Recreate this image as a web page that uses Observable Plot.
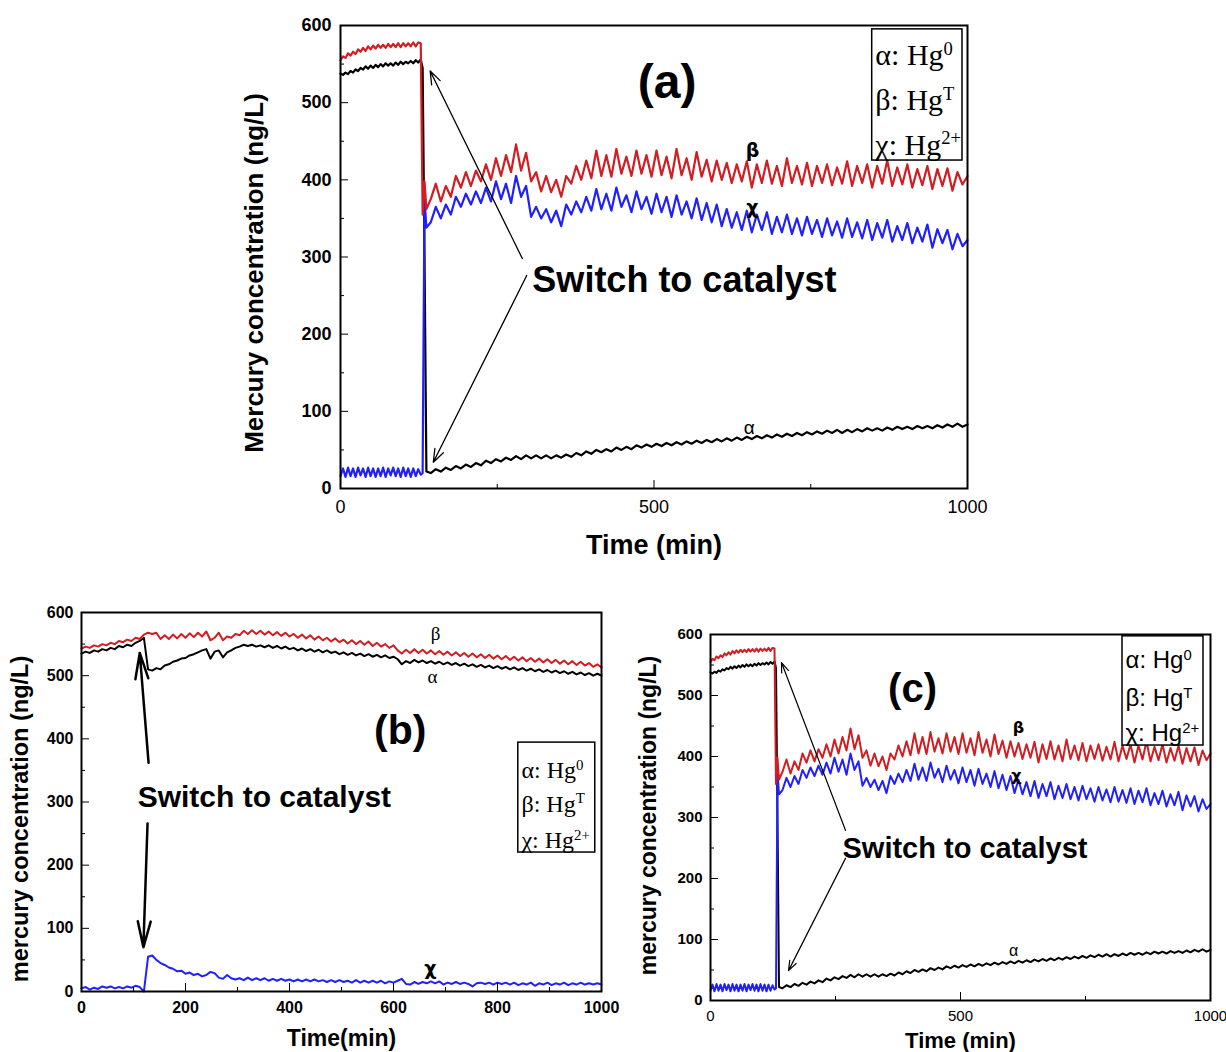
<!DOCTYPE html>
<html><head><meta charset="utf-8">
<script src="https://cdn.jsdelivr.net/npm/d3@7"></script>
<script src="https://cdn.jsdelivr.net/npm/@observablehq/plot@0.6"></script>
<style>
body{margin:0;background:#fff;}
#root{position:relative;width:1226px;height:1052px;overflow:hidden;background:#fff;}
.p{position:absolute;}
</style></head><body><div id="root"></div>
<script>
// ---------- DATA: panels (a) and (c) ----------
const timesA = [...d3.range(0,129,4),131,134,137,...d3.range(144,1001,8)];
const alphaA = [538,536,539,537,541,539,543,541,545,543,547,544,548,545,549,546,550,547,551,548,551,548,552,549,553,550,553,551,554,551,555,552,556,
  545,300,22,
  20,25,22,27,24,29,26,31,28,33, 30,36,33,38,35,40,37,42,38,43,
  39,43,39,43,39,43,40,44,41,46, 43,48,45,50,47,51,48,53,50,54,
  51,56,53,57,54,58,55,59,56,60, 57,61,58,62,59,63,60,64,61,65,
  62,66,63,67,64,68,65,69,66,70, 67,71,68,72,69,73,70,74,71,75,
  72,76,72,76,73,77,74,78,75,78, 75,79,76,80,77,80,77,81,78,81,
  78,82,79,83,80,84,80,83];
const betaA = [555,560,558,564,561,566,563,569,566,571,567,573,569,574,570,575,571,575,571,576,572,576,572,577,572,577,573,577,573,578,573,578,577,
  355,398,362,
  375,395,372,392,378,405,390,410,392,412, 398,420,400,428,405,432,410,446,412,435,
  398,410,385,405,384,400,378,405,395,418, 400,425,402,438,405,432,404,440,408,430,
  405,438,408,432,404,438,406,430,402,440, 406,428,400,436,404,426,398,425,400,422,
  396,420,398,424,390,420,396,425,395,418, 392,428,396,418,394,422,392,418,396,420,
  393,416,395,424,392,418,396,420,390,418, 395,425,392,416,394,420,390,414,393,418,
  388,414,392,415,386,410,394,405];
const chiA = [16,26,15,27,16,26,15,27,17,26,15,27,16,26,15,26,16,27,15,26,17,27,16,26,15,27,16,26,15,26,16,25,18,
  20,375,338,
  345,365,350,368,355,378,365,382,368,385, 370,390,372,398,375,395,370,405,378,392,
  352,365,350,362,345,360,340,368,355,372, 358,378,360,388,362,382,360,390,365,380,
  358,385,362,378,356,382,358,378,352,380, 355,372,350,376,348,370,345,368,340,362,
  338,358,335,360,332,355,335,358,330,352, 332,355,330,350,328,352,330,348,326,350,
  328,346,325,350,326,345,324,348,322,344, 325,348,320,340,322,344,318,338,320,342,
  312,336,318,335,310,330,314,322];

// ---------- DATA: panel (b) ----------
const timesB = d3.range(0,1001,8);
const alphaB = [535,538,536,540,538,542,540,544,542,547, 545,549,547,552,555,560,510,508,512,510,
  516,518,522,524,527,528,532,534,537,540, 542,527,538,540,529,537,540,544,546,549,
  547,549,546,548,545,548,544,547,543,546, 542,544,540,543,539,542,538,541,537,540,
  536,538,534,537,533,536,532,535,531,534, 530,533,529,532,528,530,526,518,523,520,
  525,521,524,520,523,519,522,518,521,517, 520,516,519,515,518,514,517,513,516,512,
  515,511,514,510,513,509,512,508,511,507, 510,506,509,505,508,504,507,503,506,502,
  505,501,504,500,503,500];
const betaB = [543,546,544,548,546,550,548,552,550,555, 553,557,555,560,558,565,568,566,568,558,
  564,558,565,559,566,560,567,561,568,562, 570,556,560,568,556,562,560,566,564,571,
  566,572,566,571,565,570,564,569,563,568, 562,566,560,565,559,564,557,562,556,560,
  554,559,553,557,551,556,550,555,549,554, 547,552,546,550,544,548,540,535,541,536,
  542,536,541,535,540,534,539,533,538,532, 537,531,536,530,535,529,534,528,533,527,
  532,526,531,525,530,524,529,523,528,522, 527,521,526,520,525,519,524,518,523,517,
  522,516,520,514,518,513];
const chiB = [5,7,3,6,4,8,6,8,5,7, 5,8,6,9,7,0,55,57,50,45,
  42,38,36,32,33,28,30,26,28,24, 26,31,29,22,20,26,21,19,21,18,
  22,18,21,18,21,17,20,17,20,17, 19,16,19,16,19,16,19,16,18,15,
  18,15,18,15,17,14,18,14,17,14, 17,14,17,13,16,14,17,20,12,11,
  15,12,15,13,16,13,16,11,14,12, 15,12,14,12,8,13,14,12,14,11,
  14,12,14,11,14,10,13,11,14,9, 13,11,14,10,13,11,14,10,13,11,
  14,11,13,11,13,11];

// ---------- ticks & labels ----------
const yTicks = [0,100,200,300,400,500,600];
const yMinor = [50,150,250,350,450,550];
const xTicksAC = [0,500,1000];
const xMinorAC = [250,750];
const xTicksB = [0,200,400,600,800,1000];
const xMinorB = [100,300,500,700,900];
const legendNames = ["α: Hg","β: Hg","χ: Hg"];
const legendSups = ["0","T","2+"];
const switchText = "Switch to catalyst";

// ---------- annotations ----------
const arrowsA = [{x1:290,y1:298,x2:143,y2:541},{x1:297,y1:276,x2:148,y2:34}];
const arrowsB = [{x1:129,y1:362,x2:112,y2:536},{x1:127,y1:266,x2:119,y2:70}];
const arrowsC = [{x1:270,y1:279,x2:142,y2:554},{x1:270,y1:233,x2:156,y2:49}];

const RED = "#d21d22", BLUE = "#2020ff", BLACK = "#000";

function rows(times, vals){ return times.map((t,i)=>({t, v: vals[i]})); }

function makePanel(c){
  const marks = [
    Plot.line(rows(c.times, c.alpha), {x:"t", y:"v", stroke:BLACK, strokeWidth:c.lw}),
    Plot.line(rows(c.times, c.chi), {x:"t", y:"v", stroke:BLUE, strokeWidth:c.lw}),
    Plot.line(rows(c.times, c.beta), {x:"t", y:"v", stroke:RED, strokeWidth:c.lw}),
    Plot.frame({stroke:"#000", strokeWidth:2}),
    Plot.axisY(yTicks, {tickSize:-8, tickPadding:c.yPad, fontSize:c.yFont, fontWeight:"bold", label:null, tickFormat:d=>String(d)}),
    Plot.axisY(yMinor, {tickSize:-4, tickFormat:()=>"", label:null}),
    Plot.axisX(c.xTicks, {tickSize:-8, tickPadding:c.xPad, fontSize:c.xFont, fontWeight:c.xBold?"bold":"normal", label:null, tickFormat:d=>String(d)}),
    Plot.axisX(c.xMinor, {tickSize:-4, tickFormat:()=>"", label:null}),
    Plot.arrow(c.arrows, {x1:"x1", y1:"y1", x2:"x2", y2:"y2", stroke:"#000", strokeWidth:c.aw, headLength:c.ah, headAngle:c.ha}),
    Plot.text([switchText], {x:c.sw.x, y:c.sw.y, text:d=>d, textAnchor:"start", fontSize:c.sw.size, fontWeight:"bold", fill:"#000"}),
    Plot.text([c.panelLabel.text], {x:c.panelLabel.x, y:c.panelLabel.y, text:d=>d, fontSize:c.panelLabel.size, fontWeight:"bold", fill:"#000"}),
    ...c.seriesLabels.map(s => Plot.text([s], {x:"x", y:"y", text:"t", fontSize:c.slSize, fontWeight:s.w, fontFamily:s.f, fill:"#000"})),
    Plot.rect([c.box], {x1:"x1", x2:"x2", y1:"y1", y2:"y2", fill:"white", stroke:"#000", strokeWidth:1.5}),
    Plot.text(legendNames, {x:c.box.tx, y:(d,i)=>c.box.ty[i], text:d=>d, textAnchor:"start", fontSize:c.box.size, fontFamily:c.box.font, fill:"#000"}),
    Plot.text([c.xTitle], {frameAnchor:"bottom", textAnchor:"middle", lineAnchor:"middle", dy:c.xTitleDy, text:d=>d, fontSize:c.xTitleSize, fontWeight:"bold", fill:"#000"}),
    Plot.text([c.yTitle], {frameAnchor:"left", textAnchor:"middle", lineAnchor:"middle", rotate:-90, dx:c.yTitleDx, dy:c.yTitleDy, text:d=>d, fontSize:c.yTitleSize, fontWeight:"bold", fill:"#000"})
  ];
  const svg = Plot.plot({
    width:c.width, height:c.height,
    marginLeft:c.mL, marginRight:c.mR, marginTop:c.mT, marginBottom:c.mB,
    x:{domain:[0,1000]}, y:{domain:[0,600]},
    style:{fontFamily:"'Liberation Sans', Arial, sans-serif", background:"transparent", overflow:"visible", color:"#000"},
    marks
  });
  d3.select(svg).selectAll("text").each(function(){
    const i = legendNames.indexOf(this.textContent);
    if (i >= 0) d3.select(this).append("tspan").attr("dy","-0.55em").attr("font-size","0.62em").text(legendSups[i]);
  });
  const div = document.createElement("div");
  div.className = "p";
  div.style.left = c.left+"px"; div.style.top = c.top+"px"; div.style.width = c.width+"px";
  div.appendChild(svg);
  document.getElementById("root").appendChild(div);
}

const SERIF = "'Liberation Serif', 'Times New Roman', serif";
const SANS = "'Liberation Sans', Arial, sans-serif";
const GREEK = "'DejaVu Sans', sans-serif";

makePanel({
  left:230, top:0, width:760, height:575, mL:110, mR:23, mT:25, mB:87,
  times:timesA, alpha:alphaA, beta:betaA, chi:chiA, lw:2.2,
  xTicks:xTicksAC, xMinor:xMinorAC, xPad:20, xFont:18, xBold:false, yPad:17, yFont:18,
  arrows:arrowsA, aw:1.3, ah:16, ha:40,
  sw:{x:306, y:269, size:36},
  panelLabel:{text:"(a)", x:521, y:526, size:48},
  seriesLabels:[{x:657,y:438,t:"β",w:"bold",f:GREEK},{x:657,y:363,t:"χ",w:"bold",f:GREEK},{x:652,y:79,t:"α",w:"normal",f:SANS}],
  slSize:19,
  box:{x1:848, x2:992, y1:425, y2:595, tx:853, ty:[561,503,445], size:30, font:SERIF},
  xTitle:"Time (min)", xTitleDy:57, xTitleSize:27,
  yTitle:"Mercury concentration (ng/L)", yTitleDx:-86, yTitleDy:16, yTitleSize:26
});

makePanel({
  left:0, top:590, width:620, height:462, mL:81, mR:19, mT:22, mB:61,
  times:timesB, alpha:alphaB, beta:betaB, chi:chiB, lw:2,
  xTicks:xTicksB, xMinor:xMinorB, xPad:18, xFont:16, xBold:true, yPad:16, yFont:16,
  arrows:arrowsB, aw:2.5, ah:16, ha:28,
  sw:{x:108, y:307, size:30},
  panelLabel:{text:"(b)", x:613, y:413, size:41},
  seriesLabels:[{x:681,y:566,t:"β",w:"normal",f:SERIF},{x:675,y:498,t:"α",w:"normal",f:SERIF},{x:671,y:36,t:"χ",w:"bold",f:GREEK}],
  slSize:19,
  box:{x1:840, x2:988, y1:220, y2:394, tx:846, ty:[350,297,239], size:24, font:SERIF},
  xTitle:"Time(min)", xTitleDy:47, xTitleSize:23,
  yTitle:"mercury concentration (ng/L)", yTitleDx:-61, yTitleDy:17, yTitleSize:23.5
});

makePanel({
  left:625, top:610, width:601, height:442, mL:85, mR:16, mT:24, mB:52,
  times:timesA, alpha:alphaA, beta:betaA, chi:chiA, lw:2,
  xTicks:xTicksAC, xMinor:xMinorAC, xPad:18, xFont:15, xBold:false, yPad:16, yFont:15,
  arrows:arrowsC, aw:1.2, ah:13, ha:40,
  sw:{x:264, y:249, size:29},
  panelLabel:{text:"(c)", x:404, y:511, size:40},
  seriesLabels:[{x:616,y:447,t:"β",w:"bold",f:GREEK},{x:612,y:369,t:"χ",w:"bold",f:GREEK},{x:606,y:82,t:"α",w:"normal",f:SANS}],
  slSize:16,
  box:{x1:824, x2:986, y1:418, y2:597, tx:830, ty:[557,495,438], size:24, font:SANS},
  xTitle:"Time (min)", xTitleDy:40, xTitleSize:22,
  yTitle:"mercury concentration (ng/L)", yTitleDx:-62, yTitleDy:-2, yTitleSize:23
});
</script></body></html>
